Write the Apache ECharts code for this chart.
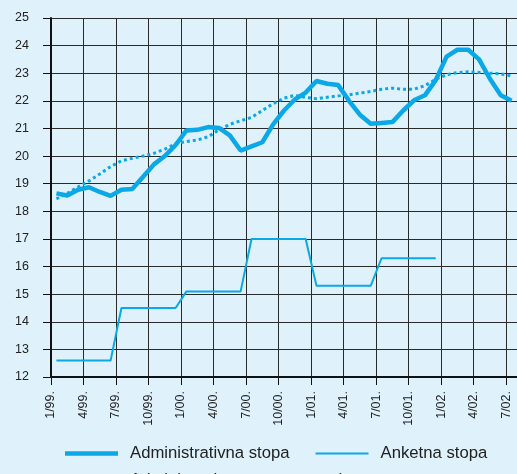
<!DOCTYPE html>
<html>
<head>
<meta charset="utf-8">
<script src="https://cdn.jsdelivr.net/npm/echarts@6/dist/echarts.min.js"></script>
<style>
    html, body { margin: 0; padding: 0; background: #dff1fb; }
    #chart { width: 517px; height: 474px; }
</style>
</head>
<body>
<div id="chart"></div>
<script>
// monthly values, 1/99. .. 7/02. (points sit mid-month)
const xTickLabels = ['1/99.', '4/99.', '7/99.', '10/99.', '1/00.', '4/00.', '7/00.', '10/00.',
    '1/01.', '4/01.', '7/01.', '10/01.', '1/02.', '4/02.', '7/02.'];

const administrativna = [
    18.65, 18.57, 18.78, 18.87, 18.70, 18.56, 18.78, 18.81, 19.25, 19.70,
    20.00, 20.40, 20.93, 20.95, 21.05, 21.02, 20.75, 20.20, 20.35, 20.50,
    21.15, 21.65, 22.05, 22.30, 22.72, 22.62, 22.57, 22.00, 21.50, 21.17,
    21.20, 21.23, 21.65, 22.02, 22.20, 22.75, 23.60, 23.85, 23.85, 23.50,
    22.80, 22.20, 22.00
];

const anketna = [
    12.6, 12.6, 12.6, 12.6, 12.6, 12.6, 14.5, 14.5, 14.5, 14.5,
    14.5, 14.5, 15.1, 15.1, 15.1, 15.1, 15.1, 15.1, 17.0, 17.0,
    17.0, 17.0, 17.0, 17.0, 15.3, 15.3, 15.3, 15.3, 15.3, 15.3,
    16.3, 16.3, 16.3, 16.3, 16.3, 16.3
];

const trend = [
    18.45, 18.65, 18.88, 19.10, 19.35, 19.62, 19.83, 19.92, 20.00, 20.10,
    20.25, 20.45, 20.53, 20.58, 20.70, 20.95, 21.15, 21.28, 21.40, 21.65,
    21.90, 22.10, 22.20, 22.12, 22.08, 22.13, 22.18, 22.22, 22.28, 22.34,
    22.42, 22.46, 22.42, 22.42, 22.55, 22.78, 22.95, 23.02, 23.05, 23.03,
    23.00, 22.98, 22.90
];

const names = ['Administrativna stopa', 'Anketna stopa', 'Administrativna stopa - trend'];
const lineColor = '#0aa8e6';

// month index -> x at the middle of that month
const toPoints = (arr) => arr.map((v, i) => [i + 0.5, v]);

// legend swatches drawn as plain bars (no symbol)
const thickIcon = 'path://M0,0H53V4.5H0Z';
const thinIcon = 'path://M0,0H53V2H0Z';
let dotIcon = 'path://';
for (let x = 0; x < 53; x += 6) dotIcon += 'M' + x + ',0h3v3h-3Z';

const chart = echarts.init(document.getElementById('chart'));

const legendText = {
    color: '#222',
    fontSize: 16.7,
    fontFamily: 'Liberation Sans, Arial, sans-serif',
    padding: [0, 0, 0, 7]
};

chart.setOption({
    backgroundColor: '#dff1fb',
    animation: false,
    grid: { left: 51, top: 18, height: 359, width: 474, containLabel: false },
    legend: [
        {
            data: [{ name: names[0], icon: thickIcon }, { name: names[1], icon: thinIcon }],
            left: 65, top: 445, padding: 0,
            itemWidth: 53, itemHeight: 16, itemGap: 26,
            textStyle: legendText
        },
        {
            data: [{ name: names[2], icon: dotIcon }],
            left: 65, top: 472, padding: 0,
            itemWidth: 53, itemHeight: 16,
            textStyle: legendText
        }
    ],
    xAxis: {
        type: 'value',
        min: 0, max: 43, interval: 3,
        axisLine: { onZero: false, lineStyle: { color: '#111', width: 2 } },
        axisTick: { length: 8, lineStyle: { color: '#111' } },
        axisLabel: {
            rotate: 90, margin: 14, color: '#222', fontSize: 12.5,
            fontFamily: 'Liberation Sans, Arial, sans-serif',
            showMaxLabel: false,
            formatter: (v) => xTickLabels[Math.round(v / 3)] || ''
        },
        splitLine: { show: true, lineStyle: { color: '#2a2a2a', width: 1 } }
    },
    yAxis: {
        type: 'value',
        min: 12, max: 25, interval: 1,
        axisLine: { show: true, lineStyle: { color: '#111', width: 2 } },
        axisTick: { show: true, length: 8, lineStyle: { color: '#111' } },
        axisLabel: {
            margin: 22, color: '#222', fontSize: 12.5,
            fontFamily: 'Liberation Sans, Arial, sans-serif'
        },
        splitLine: { show: true, lineStyle: { color: '#2a2a2a', width: 1 } }
    },
    series: [
        {
            name: names[0], type: 'line', symbol: 'none',
            data: toPoints(administrativna),
            lineStyle: { color: lineColor, width: 4.5 },
            itemStyle: { color: lineColor },
            z: 4
        },
        {
            name: names[1], type: 'line', symbol: 'none',
            data: toPoints(anketna),
            lineStyle: { color: lineColor, width: 2 },
            itemStyle: { color: lineColor },
            z: 3
        },
        {
            name: names[2], type: 'line', symbol: 'none',
            data: toPoints(trend),
            lineStyle: { color: lineColor, width: 3, type: [3, 3] },
            itemStyle: { color: lineColor },
            z: 3
        }
    ]
});
</script>
</body>
</html>
